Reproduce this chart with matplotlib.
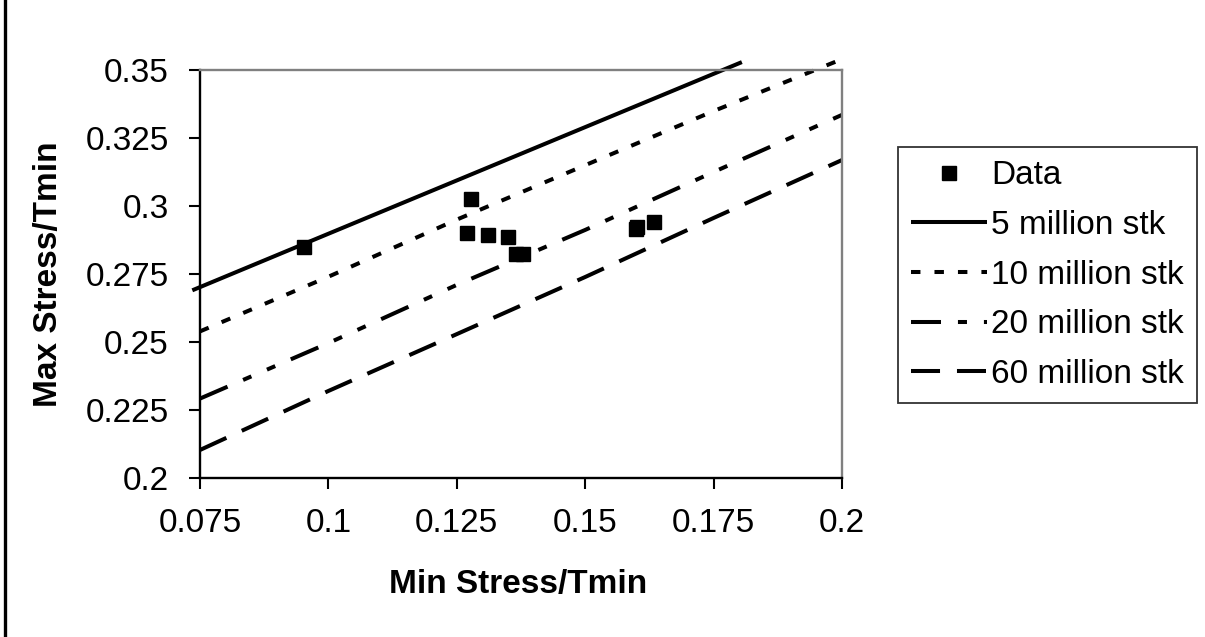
# -*- coding: utf-8 -*-

import matplotlib
matplotlib.use("Agg")
import matplotlib.pyplot as plt
from matplotlib.lines import Line2D

plt.rcParams['font.family'] = ['Liberation Sans', 'DejaVu Sans']
plt.rcParams['lines.scale_dashes'] = False

# measured points
data_x = [0.0953, 0.1277, 0.1269, 0.1310, 0.1350, 0.1366, 0.1379, 0.1598, 0.1601, 0.1633]
data_y = [0.2848, 0.3026, 0.2902, 0.2892, 0.2886, 0.2823, 0.2823, 0.2915, 0.2922, 0.2940]

# life curves
stk5_x = [0.0735, 0.1, 0.125, 0.15, 0.1805]
stk5_y = [0.2690, 0.2898, 0.3094, 0.3290, 0.3529]

curve_x = [0.075, 0.1, 0.125, 0.15, 0.175, 0.2]
stk10_y = [0.2539, 0.2740, 0.2950, 0.3150, 0.3349, 0.3540]
stk20_y = [0.2292, 0.2496, 0.2710, 0.2912, 0.3125, 0.3335]
stk60_y = [0.2103, 0.2320, 0.2529, 0.2739, 0.2956, 0.3169]

xticks = [0.075, 0.1, 0.125, 0.15, 0.175, 0.2]
xticklabels = ['0.075', '0.1', '0.125', '0.15', '0.175', '0.2']
yticks = [0.2, 0.225, 0.25, 0.275, 0.3, 0.325, 0.35]
yticklabels = ['0.2', '0.225', '0.25', '0.275', '0.3', '0.325', '0.35']

W, H = 1205, 637
fs = 24
lw = 2.9

fig = plt.figure(figsize=(W / 100, H / 100), dpi=100)
ax = fig.add_axes([200 / W, 1 - 478 / H, 642 / W, 408 / H])

l5, = ax.plot(stk5_x, stk5_y, color='black', lw=lw, solid_capstyle='butt',
              clip_on=False, label='5 million stk', zorder=2)
l10, = ax.plot(curve_x, stk10_y, color='black', lw=lw, dashes=(6.8, 10.1),
               dash_capstyle='butt', clip_on=False, label='10 million stk', zorder=2)
l20, = ax.plot(curve_x, stk20_y, color='black', lw=lw,
               dashes=(21.6, 12.2, 6.5, 12.2, 6.5, 12.2),
               dash_capstyle='butt', clip_on=False, label='20 million stk', zorder=2)
l60, = ax.plot(curve_x, stk60_y, color='black', lw=lw, dashes=(20.9, 12.2),
               dash_capstyle='butt', clip_on=False, label='60 million stk', zorder=2)
pts, = ax.plot(data_x, data_y, 's', color='black', ms=9.5, ls='none',
               label='Data', zorder=3)

ax.set_xlim(0.075, 0.2)
ax.set_ylim(0.2, 0.35)
ax.set_xticks(xticks)
ax.set_xticklabels(xticklabels)
ax.set_yticks(yticks)
ax.set_yticklabels(yticklabels)
ax.tick_params(direction='out', length=8, width=1.5, labelsize=fs, color='black')
ax.tick_params(axis='y', pad=14.4)
ax.tick_params(axis='x', pad=13.3)

for side in ['left', 'bottom']:
    ax.spines[side].set_color('black')
    ax.spines[side].set_linewidth(1.7)
for side in ['top', 'right']:
    ax.spines[side].set_color('#808080')
    ax.spines[side].set_linewidth(1.7)

fig.text(48.4 / W, 1 - 274 / H, 'Max Stress/Tmin', rotation=90, ha='center',
         va='center', fontsize=fs, fontweight='bold')
fig.text(518 / W, 1 - 584 / H, 'Min Stress/Tmin', ha='center', va='center',
         fontsize=fs, fontweight='bold')

leg = fig.legend([pts, l5, l10, l20, l60],
                 ['Data', '5 million stk', '10 million stk', '20 million stk', '60 million stk'],
                 loc='upper left', bbox_to_anchor=(898 / W, 1 - 147 / H),
                 fontsize=fs, frameon=True, fancybox=False, shadow=False,
                 numpoints=1, handlelength=2.28, handletextpad=0.12,
                 labelspacing=0.56, borderpad=0.4, borderaxespad=0)
leg.get_frame().set_edgecolor('black')
leg.get_frame().set_linewidth(1.3)

# chart border on the left edge
fig.add_artist(Line2D([5 / W, 5 / W], [0, 1], color='black', lw=2.4))

fig.savefig('out.png', dpi=100)
